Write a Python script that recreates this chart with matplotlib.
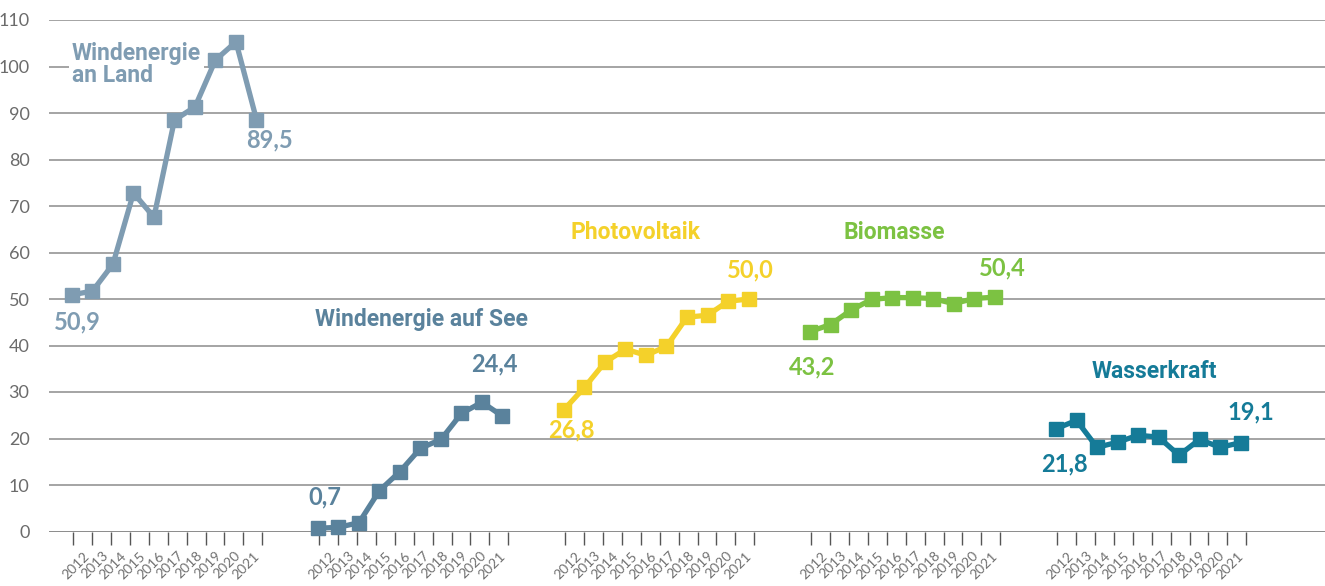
import matplotlib
matplotlib.use("Agg")
import matplotlib.pyplot as plt
from matplotlib import font_manager

# Werte in TWh
years = ["2012", "2013", "2014", "2015", "2016", "2017", "2018", "2019", "2020", "2021"]

wind_land = [50.9, 51.7, 57.5, 72.8, 67.6, 88.5, 91.3, 101.4, 105.3, 88.6]
wind_see = [0.7, 0.9, 1.9, 8.8, 12.9, 17.9, 19.8, 25.4, 27.8, 24.8]
photovoltaik = [26.2, 31.0, 36.4, 39.2, 37.9, 39.8, 46.1, 46.5, 49.5, 50.0]
biomasse = [43.0, 44.5, 47.6, 49.9, 50.3, 50.3, 50.1, 49.0, 50.1, 50.4]
wasserkraft = [22.1, 23.9, 18.1, 19.2, 20.7, 20.3, 16.4, 19.8, 18.1, 19.1]

# Beschriftete Start-/Endwerte
start_labels = [50.9, 0.7, 26.8, 43.2, 21.8]
end_labels = [89.5, 24.4, 50.0, 50.4, 19.1]

names = ["Windenergie\nan Land", "Windenergie auf See", "Photovoltaik", "Biomasse", "Wasserkraft"]
series = [wind_land, wind_see, photovoltaik, biomasse, wasserkraft]
colors = ["#7f9cb2", "#5a829c", "#f4d12a", "#7cc242", "#157b98"]

yticks = [0, 10, 20, 30, 40, 50, 60, 70, 80, 90, 100, 110]

names_avail = {f.name for f in font_manager.fontManager.ttflist}
cond = "Liberation Sans Narrow" if "Liberation Sans Narrow" in names_avail else "Roboto"
plt.rcParams["font.family"] = ["Lato", "DejaVu Sans"]

fig = plt.figure(figsize=(13.25, 5.86), dpi=100)
ax = fig.add_axes([49 / 1325, 54.5 / 586, 1276 / 1325, 511.5 / 586])

group = 12
tick_step = 0.922

major_pos, minor_pos, minor_lab = [], [], []
for g, (vals, col) in enumerate(zip(series, colors)):
    xs = [g * group + i for i in range(len(vals))]
    ax.plot(xs, vals, color=col, lw=3.8, marker="s", ms=9.5,
            solid_joinstyle="miter", zorder=3, clip_on=False)
    for k in range(len(years) + 1):
        major_pos.append(g * group + 0.06 + tick_step * k)
    for k, y in enumerate(years):
        minor_pos.append(g * group + 0.06 + tick_step * (k + 0.5))
        minor_lab.append(y)

ax.set_xlim(-1.12, 61.12)
ax.set_ylim(0, 110)
ax.set_yticks(yticks)
ax.set_yticklabels([str(v) for v in yticks], fontsize=13, color="#6b6b6b")
ax.yaxis.grid(True, color="#8c8c8c", lw=1.1)
ax.set_axisbelow(True)
ax.tick_params(axis="y", length=0, pad=14)

ax.set_xticks(major_pos)
ax.set_xticklabels([])
ax.set_xticks(minor_pos, minor=True)
ax.set_xticklabels(minor_lab, minor=True, rotation=45, ha="right",
                   rotation_mode="anchor", fontsize=10, color="#707070")
ax.tick_params(axis="x", which="major", length=9.5, width=1, color="#555555")
ax.tick_params(axis="x", which="minor", length=0, pad=13)

for s in ["top", "right", "left", "bottom"]:
    ax.spines[s].set_visible(False)
ax.axhline(0, color="#8c8c8c", lw=1.3, zorder=1)

# Reihen-Beschriftungen
box = dict(facecolor="white", edgecolor="none", pad=2)
name_pos = [(0.0, 100.5, "left"), (17.07, 45.5, "center"), (27.5, 64.4, "center"),
            (40.1, 64.4, "center"), (52.8, 34.5, "center")]
for name, col, (x, y, ha) in zip(names, colors, name_pos):
    ax.text(x, y, name, color=col, fontsize=16.5, fontweight="bold",
            family=[cond, "DejaVu Sans"], ha=ha, va="center", linespacing=0.95,
            bbox=box if ha == "left" else None, zorder=2.5)

# Start- und Endwerte
def fmt(v):
    return f"{v:.1f}".replace(".", ",")

value_pos = [((0.25, 45.0), (9.65, 84.2)),
             ((12.34, 7.4), (20.6, 36.0)),
             ((24.34, 21.8), (33.07, 56.2)),
             ((36.1, 35.4), (45.4, 56.7)),
             ((48.4, 14.5), (57.5, 25.7))]
for v0, v1, col, (p0, p1) in zip(start_labels, end_labels, colors, value_pos):
    for (x, y), v in ((p0, v0), (p1, v1)):
        ax.text(x, y, fmt(v), color=col, fontsize=17, fontweight="bold",
                ha="center", va="center")

fig.savefig("out.png", dpi=100)
